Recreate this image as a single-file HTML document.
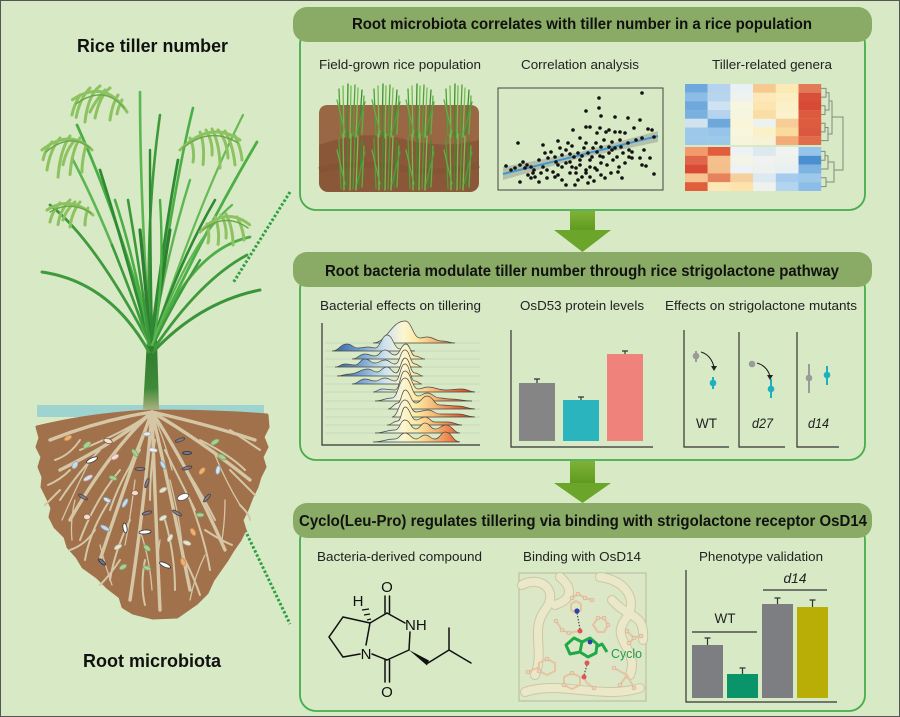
<!DOCTYPE html>
<html><head><meta charset="utf-8"><style>
html,body{margin:0;padding:0;background:#d8e9c5;}
svg{display:block;font-family:"Liberation Sans",Arial,sans-serif;}
</style></head><body>
<svg width="900" height="717" viewBox="0 0 900 717" xmlns="http://www.w3.org/2000/svg">
<defs>
<linearGradient id="ridge" gradientUnits="userSpaceOnUse" x1="330" y1="0" x2="476" y2="0">
<stop offset="0" stop-color="#2c5c9c"/><stop offset="0.2" stop-color="#6f9fd0"/><stop offset="0.38" stop-color="#cfe2ef"/><stop offset="0.5" stop-color="#fbf6d2"/><stop offset="0.6" stop-color="#fce7a0"/><stop offset="0.72" stop-color="#f5b575"/><stop offset="0.86" stop-color="#e56e3e"/><stop offset="1" stop-color="#c8391f"/>
</linearGradient>
<linearGradient id="arrowg" x1="0" y1="0" x2="0" y2="1"><stop offset="0" stop-color="#7fb236"/><stop offset="1" stop-color="#5d9a1f"/></linearGradient>
<linearGradient id="stemg" x1="0" y1="0" x2="0" y2="1"><stop offset="0" stop-color="#2d7a2f"/><stop offset="0.7" stop-color="#3f8a38"/><stop offset="1" stop-color="#a6b07a"/></linearGradient>
<g id="clump">
<g stroke-width="1.3" fill="none" stroke-linecap="round">
<path d="M-10 136 L-12 89" stroke="#4f9f3a"/><path d="M-7 137 L-8 86" stroke="#6dbf4b"/><path d="M-4 136 L-3 84" stroke="#3e8c31"/><path d="M-1 138 L0 86" stroke="#6cbf4a"/><path d="M2 136 L4 85" stroke="#4fa03a"/><path d="M5 137 L7 88" stroke="#72c250"/><path d="M8 135 L11 90" stroke="#3e8c31"/><path d="M11 134 L13 96" stroke="#5eb045"/><path d="M-6 132 L-14 100" stroke="#5eb045"/><path d="M6 132 L14 102" stroke="#4fa03a"/>
<path d="M-10 189 L-12 138" stroke="#4f9f3a"/><path d="M-7 190 L-8 134" stroke="#6dbf4b"/><path d="M-4 189 L-3 132" stroke="#3e8c31"/><path d="M-1 190 L0 134" stroke="#6cbf4a"/><path d="M2 189 L4 133" stroke="#4fa03a"/><path d="M5 190 L7 136" stroke="#72c250"/><path d="M8 188 L11 140" stroke="#3e8c31"/><path d="M11 187 L13 146" stroke="#5eb045"/><path d="M-6 184 L-14 150" stroke="#5eb045"/><path d="M6 184 L14 152" stroke="#4fa03a"/>
</g></g>
</defs>

<rect x="0" y="0" width="900" height="717" fill="#d8e9c5"/>
<rect x="0.5" y="0.5" width="899" height="716" fill="none" stroke="#555" stroke-width="1"/>

<!-- LEFT TITLES -->
<text x="77" y="52" font-size="18" font-weight="bold" fill="#111" textLength="151" lengthAdjust="spacingAndGlyphs">Rice tiller number</text>
<text x="83" y="667" font-size="18" font-weight="bold" fill="#111" textLength="138" lengthAdjust="spacingAndGlyphs">Root microbiota</text>

<!-- dotted lines -->
<path d="M290 192 L233 283" stroke="#2ea043" stroke-width="3" stroke-dasharray="2.5 2" fill="none"/>
<path d="M245 530 L290 624" stroke="#2ea043" stroke-width="3" stroke-dasharray="2.5 2" fill="none"/>

<!-- water -->
<rect x="37" y="405" width="227" height="12" fill="#9ed4d0"/>
<!-- soil -->
<path d="M37 427 Q90 414 150 411 Q220 411 267 415 L268 427 L263 437 L267 447 L262 457 L265 467 L260 477 L257 487 L252 497 L247 510 L242 520 L245 530 L240 540 L233 550 L227 560 L220 570 L213 580 L207 593 L197 603 L187 610 L177 617 L153 618 L133 613 L123 607 L120 597 L107 587 L97 577 L83 567 L77 557 L68 547 L65 537 L55 527 L50 517 L52 508 L47 497 L42 487 L43 477 L39 467 L42 457 L37 447 L40 438 Z" fill="#a0714a" stroke="#a0714a" stroke-width="3" stroke-linejoin="round"/>
<!-- roots -->
<g stroke="#d5c7a6" fill="none" stroke-linecap="round">
<g stroke-width="3.4">
<path d="M152 412 Q120 440 60 470"/><path d="M152 412 Q110 450 70 520"/><path d="M152 412 Q130 470 100 560"/><path d="M152 412 Q145 500 130 600"/><path d="M152 412 Q155 500 160 610"/><path d="M152 412 Q170 490 190 590"/><path d="M152 412 Q190 470 225 550"/><path d="M152 412 Q200 440 250 480"/><path d="M152 412 Q210 425 255 440"/><path d="M152 412 Q100 420 50 440"/>
</g>
<g stroke-width="2">
<path d="M152 412 Q130 430 80 450"/><path d="M100 450 Q80 470 60 500"/><path d="M120 470 Q95 500 80 540"/><path d="M180 460 Q200 490 215 520"/><path d="M200 440 Q230 455 245 470"/><path d="M130 520 Q115 550 110 580"/><path d="M165 520 Q175 555 175 590"/><path d="M110 500 Q90 530 85 560"/><path d="M190 500 Q205 540 210 570"/><path d="M140 450 Q120 480 110 510"/><path d="M165 450 Q180 480 195 510"/><path d="M80 440 Q70 455 55 460"/><path d="M230 430 Q245 440 260 450"/><path d="M70 470 Q60 480 48 485"/><path d="M230 470 Q245 485 255 495"/><path d="M95 530 Q85 545 70 550"/><path d="M205 530 Q220 540 232 545"/><path d="M145 560 Q140 585 145 605"/><path d="M120 560 Q110 575 100 585"/><path d="M185 560 Q195 580 200 595"/><path d="M155 440 Q150 470 150 500"/><path d="M60 490 Q50 500 45 505"/><path d="M240 505 Q250 515 250 520"/>
</g>
<g stroke-width="1.3">
<path d="M152 412 Q140 440 128 470"/><path d="M152 412 Q165 440 172 470"/><path d="M90 460 Q75 490 62 520"/><path d="M215 455 Q225 480 240 505"/><path d="M135 480 Q130 520 125 545"/><path d="M170 480 Q180 520 182 545"/><path d="M75 500 Q70 520 72 540"/><path d="M225 500 Q225 520 222 540"/><path d="M140 530 Q150 560 152 590"/><path d="M160 540 Q155 570 160 600"/><path d="M100 545 Q105 565 112 585"/><path d="M205 555 Q195 575 190 600"/>
</g></g>
<!-- bacteria -->
<g stroke-width="0.8">
<ellipse cx="68" cy="438" rx="4" ry="2.2" fill="#f0b070" stroke="#c98a50" transform="rotate(-30 68 438)"/>
<ellipse cx="87" cy="445" rx="4.5" ry="2.4" fill="#a9d195" stroke="#7aa868" transform="rotate(-40 87 445)"/>
<ellipse cx="108" cy="441" rx="4.5" ry="2.4" fill="#f6e1cc" stroke="#6a5a4a" transform="rotate(20 108 441)"/>
<ellipse cx="92" cy="460" rx="6" ry="2" fill="#fff" stroke="#333" transform="rotate(-25 92 460)"/>
<ellipse cx="75" cy="465" rx="4" ry="2.4" fill="#c9dbe6" stroke="#9ab" transform="rotate(-60 75 465)"/>
<ellipse cx="115" cy="457" rx="4" ry="2.2" fill="#f3dfca" stroke="#c9a" transform="rotate(-30 115 457)"/>
<ellipse cx="135" cy="453" rx="4.5" ry="2" fill="#a9d195" stroke="#7aa868" transform="rotate(50 135 453)"/>
<ellipse cx="147" cy="434" rx="4" ry="2" fill="#e8ecd8" stroke="#aab" />
<ellipse cx="153" cy="450" rx="4.5" ry="2" fill="#eef0e8" stroke="#aab" transform="rotate(10 153 450)"/>
<ellipse cx="180" cy="440" rx="5" ry="1.5" fill="#8a7a8a" stroke="#444" transform="rotate(-20 180 440)"/>
<ellipse cx="187" cy="453" rx="4.5" ry="1.5" fill="#6a7a9a" stroke="#333"/>
<ellipse cx="215" cy="442" rx="4.5" ry="2.2" fill="#a9d195" stroke="#7aa868" transform="rotate(-30 215 442)"/>
<ellipse cx="222" cy="457" rx="4.5" ry="2.2" fill="#a9d195" stroke="#7aa868" transform="rotate(30 222 457)"/>
<ellipse cx="202" cy="471" rx="4" ry="2.2" fill="#f0b070" stroke="#c98a50" transform="rotate(-50 202 471)"/>
<ellipse cx="218" cy="470" rx="4.5" ry="2.2" fill="#d4e6f2" stroke="#89a" transform="rotate(-80 218 470)"/>
<ellipse cx="187" cy="468" rx="5" ry="1.5" fill="#8a7a8a" stroke="#444" transform="rotate(-15 187 468)"/>
<ellipse cx="140" cy="469" rx="5" ry="1.5" fill="#8a7a8a" stroke="#444"/>
<ellipse cx="163" cy="465" rx="4.5" ry="2" fill="#c6dceb" stroke="#89a" transform="rotate(60 163 465)"/>
<ellipse cx="88" cy="478" rx="5" ry="2" fill="#dde3e6" stroke="#aab" transform="rotate(-30 88 478)"/>
<ellipse cx="113" cy="478" rx="4" ry="2" fill="#a9d195" stroke="#7aa868" transform="rotate(20 113 478)"/>
<ellipse cx="147" cy="483" rx="5" ry="1.5" fill="#8a7a8a" stroke="#444" transform="rotate(-70 147 483)"/>
<ellipse cx="135" cy="493" rx="3.5" ry="2.6" fill="#f6dcc4" stroke="#8a6a5a"/>
<ellipse cx="163" cy="490" rx="4" ry="2" fill="#e9e6cf" stroke="#bba" transform="rotate(-30 163 490)"/>
<ellipse cx="183" cy="497" rx="6" ry="3" fill="#fff" stroke="#555" transform="rotate(-20 183 497)"/>
<ellipse cx="207" cy="498" rx="5" ry="1.5" fill="#8a7a8a" stroke="#444" transform="rotate(-50 207 498)"/>
<ellipse cx="83" cy="497" rx="5" ry="1.5" fill="#8a7a8a" stroke="#444" transform="rotate(30 83 497)"/>
<ellipse cx="107" cy="500" rx="4" ry="2" fill="#d4e6f2" stroke="#89a" transform="rotate(30 107 500)"/>
<ellipse cx="125" cy="503" rx="5" ry="2" fill="#c6dceb" stroke="#89a" transform="rotate(-60 125 503)"/>
<ellipse cx="147" cy="513" rx="5" ry="1.5" fill="#8a7a8a" stroke="#444" transform="rotate(-15 147 513)"/>
<ellipse cx="177" cy="513" rx="5" ry="1.5" fill="#8a7a8a" stroke="#444" transform="rotate(30 177 513)"/>
<ellipse cx="163" cy="518" rx="4" ry="2" fill="#e9e6cf" stroke="#bba" transform="rotate(-30 163 518)"/>
<ellipse cx="200" cy="515" rx="4" ry="2" fill="#a9d195" stroke="#7aa868"/>
<ellipse cx="87" cy="517" rx="3.5" ry="2.8" fill="#f6dcc4" stroke="#8a6a5a"/>
<ellipse cx="105" cy="528" rx="5" ry="2" fill="#c6dceb" stroke="#89a" transform="rotate(30 105 528)"/>
<ellipse cx="125" cy="528" rx="5" ry="2" fill="#fff" stroke="#333" transform="rotate(80 125 528)"/>
<ellipse cx="145" cy="532" rx="6" ry="2" fill="#fff" stroke="#333" transform="rotate(-5 145 532)"/>
<ellipse cx="170" cy="538" rx="4" ry="2" fill="#e9e6cf" stroke="#bba" transform="rotate(-60 170 538)"/>
<ellipse cx="193" cy="532" rx="4" ry="2.2" fill="#f0b070" stroke="#c98a50" transform="rotate(60 193 532)"/>
<ellipse cx="118" cy="547" rx="4" ry="2" fill="#e9e6cf" stroke="#bba" transform="rotate(-30 118 547)"/>
<ellipse cx="147" cy="548" rx="4" ry="2.2" fill="#a9d195" stroke="#7aa868" transform="rotate(40 147 548)"/>
<ellipse cx="187" cy="543" rx="4" ry="2" fill="#e9e6cf" stroke="#bba" transform="rotate(20 187 543)"/>
<ellipse cx="102" cy="562" rx="4.5" ry="1.5" fill="#6a7a9a" stroke="#333" transform="rotate(40 102 562)"/>
<ellipse cx="123" cy="567" rx="4" ry="2.2" fill="#a9d195" stroke="#7aa868" transform="rotate(-30 123 567)"/>
<ellipse cx="147" cy="568" rx="4" ry="2" fill="#a9d195" stroke="#7aa868" transform="rotate(20 147 568)"/>
<ellipse cx="165" cy="565" rx="6" ry="2" fill="#fff" stroke="#333" transform="rotate(25 165 565)"/>
<ellipse cx="183" cy="562" rx="4" ry="2.2" fill="#f0b070" stroke="#c98a50" transform="rotate(70 183 562)"/>
</g>

<!-- plant stem -->
<path d="M143 409 L159 409 L157 340 L147 340 Z" fill="url(#stemg)"/>
<!-- leaves -->
<g fill="none" stroke-linecap="round">
<path d="M149 352 Q110 282 42 272" stroke="#3f9a3c" stroke-width="3"/>
<path d="M153 352 Q200 302 260 290" stroke="#3a9438" stroke-width="3"/>
<path d="M154 340 Q205 230 257 142" stroke="#4caf45" stroke-width="2.8"/>
<path d="M150 340 Q140 200 140 92" stroke="#5cb652" stroke-width="2.6"/>
<path d="M152 340 Q175 180 193 108" stroke="#4caf45" stroke-width="2.6"/>
<path d="M153 340 Q200 200 243 115" stroke="#66bb55" stroke-width="2.2"/>
<path d="M151 340 Q120 220 77 125" stroke="#4caf45" stroke-width="2.8"/>
<path d="M150 345 Q95 240 50 205" stroke="#3f9a3c" stroke-width="2.8"/>
<path d="M149 345 Q110 230 72 158" stroke="#5cb652" stroke-width="2.6"/>
<path d="M153 345 Q190 250 250 237" stroke="#4caf45" stroke-width="2.8"/>
<path d="M153 350 Q200 280 247 255" stroke="#3f9a3c" stroke-width="2.8"/>
<path d="M150 340 Q145 220 160 115" stroke="#3f9a3c" stroke-width="2.6"/>
<path d="M151 340 Q165 230 178 160" stroke="#2f8a34" stroke-width="2.8"/>
<path d="M150 345 Q125 250 100 170" stroke="#2f8a34" stroke-width="2.8"/>
<path d="M152 343 Q180 260 215 200" stroke="#2f8a34" stroke-width="2.6"/>
<path d="M150 345 Q135 260 115 200" stroke="#4caf45" stroke-width="2.6"/>
<path d="M152 345 Q165 260 190 180" stroke="#5cb652" stroke-width="2.4"/>
<path d="M151 350 Q145 280 140 230" stroke="#2f7f32" stroke-width="3.2"/>
<path d="M152 350 Q160 290 170 230" stroke="#2f7f32" stroke-width="3.2"/>
<path d="M150 345 Q140 270 128 200" stroke="#3a9a3a" stroke-width="2.6"/>
<path d="M153 345 Q165 280 160 200" stroke="#4caf45" stroke-width="2.4"/>
<path d="M150 345 Q130 290 112 245" stroke="#3f9a3c" stroke-width="2.4"/>
<path d="M153 345 Q175 300 200 260" stroke="#3f9a3c" stroke-width="2.4"/>
<path d="M152 340 Q150 250 150 150" stroke="#2f8a34" stroke-width="2.4"/>
<path d="M152 345 Q190 240 232 205" stroke="#5cb652" stroke-width="2.2"/>
</g>
<!-- panicles -->
<g fill="none" stroke-linecap="round">
<g stroke="#8cc260" stroke-width="3" stroke-dasharray="1.8 0.8">
<path d="M127 112 Q105 78 72 100"/><path d="M110 88 Q100 95 95 118"/><path d="M100 86 Q88 95 85 122"/><path d="M90 88 Q80 98 76 118"/><path d="M118 95 Q112 105 110 120"/><path d="M80 95 Q74 105 72 115"/><path d="M105 90 Q96 100 90 112"/><path d="M122 100 Q118 108 117 114"/>
<path d="M92 150 Q70 128 42 150"/><path d="M80 138 Q72 150 70 175"/><path d="M70 136 Q60 150 58 178"/><path d="M60 138 Q50 150 47 170"/><path d="M86 145 Q82 160 82 172"/><path d="M75 140 Q66 150 63 165"/><path d="M52 142 Q45 150 43 160"/>
<path d="M93 215 Q70 195 47 210"/><path d="M80 202 Q72 212 70 227"/><path d="M70 200 Q60 210 58 225"/><path d="M60 203 Q52 212 50 222"/><path d="M88 208 Q85 218 85 225"/><path d="M75 202 Q66 210 63 220"/>
<path d="M180 150 Q210 120 240 140"/><path d="M200 132 Q205 145 203 165"/><path d="M212 129 Q220 145 220 168"/><path d="M225 131 Q233 145 235 165"/><path d="M190 138 Q195 150 193 162"/><path d="M235 136 Q241 148 242 160"/><path d="M206 130 Q213 142 212 155"/><path d="M218 130 Q227 140 228 158"/>
<path d="M200 232 Q225 205 250 225"/><path d="M215 217 Q220 230 218 245"/><path d="M226 214 Q233 228 233 245"/><path d="M237 217 Q243 228 244 240"/><path d="M207 224 Q210 235 208 243"/><path d="M221 215 Q227 225 226 238"/>
</g>
<g stroke="#6aa84a" stroke-width="1.5" stroke-dasharray="1.5 1">
<path d="M124 108 Q104 84 76 104"/><path d="M90 148 Q70 132 46 152"/><path d="M91 213 Q70 200 50 212"/><path d="M183 148 Q210 126 238 143"/><path d="M203 230 Q225 212 248 228"/>
</g>
</g>

<!-- ============ PANEL 1 ============ -->
<rect x="300" y="28" width="565" height="182" rx="16" fill="none" stroke="#45ad4a" stroke-width="1.8"/>
<rect x="293" y="7" width="579" height="35" rx="14" fill="#89ab65"/>
<text x="352" y="29" font-size="16" font-weight="bold" fill="#111" textLength="460" lengthAdjust="spacingAndGlyphs">Root microbiota correlates with tiller number in a rice population</text>
<g font-size="13" fill="#222">
<text x="319" y="69" textLength="162" lengthAdjust="spacingAndGlyphs">Field-grown rice population</text>
<text x="521" y="69" textLength="118" lengthAdjust="spacingAndGlyphs">Correlation analysis</text>
<text x="712" y="69" textLength="120" lengthAdjust="spacingAndGlyphs">Tiller-related genera</text>
</g>
<!-- field -->
<rect x="319" y="105" width="160" height="87" rx="9" fill="#8a5838"/>
<path d="M319 114 Q319 105 328 105 L470 105 Q479 105 479 114 L479 140 Q440 150 400 138 Q360 130 319 145 Z" fill="#9a6744"/>
<path d="M319 170 Q360 160 400 168 Q440 176 479 165" stroke="#7d4f32" stroke-width="6" fill="none" opacity="0.5"/>
<use href="#clump" x="351" y="0"/>
<use href="#clump" x="386" y="0"/>
<use href="#clump" x="420" y="0"/>
<use href="#clump" x="458" y="0"/>
<!-- scatter -->
<rect x="498" y="88" width="165" height="102" fill="none" stroke="#444" stroke-width="1"/>
<polygon points="503,167 580,152 658,131 658,142 580,158 503,180" fill="#a6aea0" opacity="0.7"/>
<line x1="503" y1="174" x2="658" y2="136" stroke="#3e97d1" stroke-width="2"/>
<g fill="#111">
<circle cx="642" cy="93" r="1.8"/><circle cx="599" cy="98" r="1.8"/><circle cx="599" cy="108" r="1.8"/><circle cx="586" cy="111" r="1.8"/><circle cx="615" cy="117" r="1.8"/><circle cx="628" cy="118" r="1.8"/><circle cx="601" cy="116" r="1.8"/><circle cx="640" cy="120" r="1.8"/><circle cx="573" cy="130" r="1.8"/><circle cx="586" cy="127" r="1.8"/><circle cx="590" cy="127" r="1.8"/><circle cx="600" cy="128" r="1.8"/><circle cx="609" cy="130" r="1.8"/><circle cx="597" cy="133" r="1.8"/><circle cx="606" cy="132" r="1.8"/><circle cx="615" cy="132" r="1.8"/><circle cx="620" cy="132" r="1.8"/><circle cx="625" cy="133" r="1.8"/><circle cx="634" cy="128" r="1.8"/><circle cx="648" cy="129" r="1.8"/><circle cx="652" cy="130" r="1.8"/><circle cx="518" cy="143" r="1.8"/><circle cx="543" cy="145" r="1.8"/><circle cx="558" cy="141" r="1.8"/><circle cx="568" cy="143" r="1.8"/><circle cx="580" cy="138" r="1.8"/><circle cx="586" cy="143" r="1.8"/><circle cx="593" cy="148" r="1.8"/><circle cx="601" cy="147" r="1.8"/><circle cx="609" cy="147" r="1.8"/><circle cx="615" cy="148" r="1.8"/><circle cx="621" cy="147" r="1.8"/><circle cx="629" cy="150" r="1.8"/><circle cx="642" cy="138" r="1.8"/><circle cx="654" cy="137" r="1.8"/><circle cx="506" cy="166" r="1.8"/><circle cx="511" cy="170" r="1.8"/><circle cx="520" cy="165" r="1.8"/><circle cx="523" cy="162" r="1.8"/><circle cx="527" cy="165" r="1.8"/><circle cx="531" cy="167" r="1.8"/><circle cx="539" cy="160" r="1.8"/><circle cx="545" cy="153" r="1.8"/><circle cx="551" cy="152" r="1.8"/><circle cx="555" cy="157" r="1.8"/><circle cx="562" cy="155" r="1.8"/><circle cx="566" cy="150" r="1.8"/><circle cx="570" cy="154" r="1.8"/><circle cx="574" cy="157" r="1.8"/><circle cx="578" cy="153" r="1.8"/><circle cx="582" cy="156" r="1.8"/><circle cx="588" cy="153" r="1.8"/><circle cx="592" cy="157" r="1.8"/><circle cx="597" cy="152" r="1.8"/><circle cx="603" cy="157" r="1.8"/><circle cx="609" cy="153" r="1.8"/><circle cx="617" cy="157" r="1.8"/><circle cx="623" cy="153" r="1.8"/><circle cx="629" cy="157" r="1.8"/><circle cx="632" cy="152" r="1.8"/><circle cx="531" cy="178" r="1.8"/><circle cx="535" cy="177" r="1.8"/><circle cx="541" cy="173" r="1.8"/><circle cx="547" cy="170" r="1.8"/><circle cx="553" cy="172" r="1.8"/><circle cx="558" cy="165" r="1.8"/><circle cx="562" cy="167" r="1.8"/><circle cx="566" cy="163" r="1.8"/><circle cx="572" cy="167" r="1.8"/><circle cx="576" cy="168" r="1.8"/><circle cx="580" cy="165" r="1.8"/><circle cx="586" cy="170" r="1.8"/><circle cx="590" cy="167" r="1.8"/><circle cx="595" cy="168" r="1.8"/><circle cx="601" cy="163" r="1.8"/><circle cx="607" cy="165" r="1.8"/><circle cx="613" cy="160" r="1.8"/><circle cx="619" cy="167" r="1.8"/><circle cx="625" cy="163" r="1.8"/><circle cx="642" cy="165" r="1.8"/><circle cx="646" cy="166" r="1.8"/><circle cx="520" cy="182" r="1.8"/><circle cx="566" cy="185" r="1.8"/><circle cx="578" cy="180" r="1.8"/><circle cx="588" cy="183" r="1.8"/><circle cx="590" cy="177" r="1.8"/><circle cx="601" cy="175" r="1.8"/><circle cx="611" cy="173" r="1.8"/><circle cx="558" cy="175" r="1.8"/><circle cx="562" cy="180" r="1.8"/><circle cx="576" cy="173" r="1.8"/><circle cx="582" cy="177" r="1.8"/><circle cx="547" cy="178" r="1.8"/><circle cx="539" cy="182" r="1.8"/><circle cx="654" cy="174" r="1.8"/><circle cx="632" cy="158" r="1.8"/><circle cx="570" cy="162" r="1.8"/><circle cx="543" cy="167" r="1.8"/><circle cx="525" cy="168" r="1.8"/><circle cx="533" cy="173" r="1.8"/><circle cx="555" cy="177" r="1.8"/><circle cx="570" cy="173" r="1.8"/><circle cx="586" cy="173" r="1.8"/><circle cx="597" cy="170" r="1.8"/><circle cx="548" cy="158" r="1.8"/><circle cx="560" cy="148" r="1.8"/><circle cx="572" cy="146" r="1.8"/><circle cx="584" cy="148" r="1.8"/><circle cx="596" cy="143" r="1.8"/><circle cx="604" cy="140" r="1.8"/><circle cx="612" cy="142" r="1.8"/><circle cx="620" cy="140" r="1.8"/><circle cx="628" cy="143" r="1.8"/><circle cx="636" cy="140" r="1.8"/><circle cx="644" cy="150" r="1.8"/><circle cx="650" cy="158" r="1.8"/><circle cx="580" cy="160" r="1.8"/><circle cx="590" cy="160" r="1.8"/><circle cx="600" cy="156" r="1.8"/><circle cx="612" cy="150" r="1.8"/><circle cx="556" cy="162" r="1.8"/><circle cx="534" cy="170" r="1.8"/><circle cx="528" cy="175" r="1.8"/><circle cx="515" cy="168" r="1.8"/><circle cx="575" cy="185" r="1.8"/><circle cx="594" cy="181" r="1.8"/><circle cx="605" cy="178" r="1.8"/><circle cx="618" cy="172" r="1.8"/><circle cx="622" cy="178" r="1.8"/><circle cx="640" cy="158" r="1.8"/>
</g>
<!-- heatmap -->
<g>
<rect x="685" y="84" width="22.7" height="8.8" fill="#6fa8dc"/><rect x="707.7" y="84" width="22.7" height="8.8" fill="#b5d3ef"/><rect x="730.4" y="84" width="22.7" height="8.8" fill="#eaf1f5"/><rect x="753.1" y="84" width="22.7" height="8.8" fill="#f5c98f"/><rect x="775.8" y="84" width="22.7" height="8.8" fill="#fce9b3"/><rect x="798.5" y="84" width="22.7" height="8.8" fill="#e37a57"/>
<rect x="685" y="92.7" width="22.7" height="8.8" fill="#8cbde9"/><rect x="707.7" y="92.7" width="22.7" height="8.8" fill="#b8d5ee"/><rect x="730.4" y="92.7" width="22.7" height="8.8" fill="#eef3f0"/><rect x="753.1" y="92.7" width="22.7" height="8.8" fill="#fde8b8"/><rect x="775.8" y="92.7" width="22.7" height="8.8" fill="#fbeec0"/><rect x="798.5" y="92.7" width="22.7" height="8.8" fill="#d9503a"/>
<rect x="685" y="101.4" width="22.7" height="8.8" fill="#6fa8dc"/><rect x="707.7" y="101.4" width="22.7" height="8.8" fill="#cfe2f1"/><rect x="730.4" y="101.4" width="22.7" height="8.8" fill="#f6f6e1"/><rect x="753.1" y="101.4" width="22.7" height="8.8" fill="#fde4b0"/><rect x="775.8" y="101.4" width="22.7" height="8.8" fill="#fbf1c8"/><rect x="798.5" y="101.4" width="22.7" height="8.8" fill="#d84a35"/>
<rect x="685" y="110.1" width="22.7" height="8.8" fill="#79b0e0"/><rect x="707.7" y="110.1" width="22.7" height="8.8" fill="#b3d3ef"/><rect x="730.4" y="110.1" width="22.7" height="8.8" fill="#f6f6e0"/><rect x="753.1" y="110.1" width="22.7" height="8.8" fill="#fbdca2"/><rect x="775.8" y="110.1" width="22.7" height="8.8" fill="#fbf1cb"/><rect x="798.5" y="110.1" width="22.7" height="8.8" fill="#dd5a3e"/>
<rect x="685" y="118.8" width="22.7" height="8.8" fill="#d2e3ef"/><rect x="707.7" y="118.8" width="22.7" height="8.8" fill="#6ea7da"/><rect x="730.4" y="118.8" width="22.7" height="8.8" fill="#f8f5d8"/><rect x="753.1" y="118.8" width="22.7" height="8.8" fill="#eef2ee"/><rect x="775.8" y="118.8" width="22.7" height="8.8" fill="#f6cd96"/><rect x="798.5" y="118.8" width="22.7" height="8.8" fill="#de5b3f"/>
<rect x="685" y="127.5" width="22.7" height="8.8" fill="#9cc8ea"/><rect x="707.7" y="127.5" width="22.7" height="8.8" fill="#96c4ea"/><rect x="730.4" y="127.5" width="22.7" height="8.8" fill="#f8f6dc"/><rect x="753.1" y="127.5" width="22.7" height="8.8" fill="#fbf1c6"/><rect x="775.8" y="127.5" width="22.7" height="8.8" fill="#f9dc9c"/><rect x="798.5" y="127.5" width="22.7" height="8.8" fill="#dc5740"/>
<rect x="685" y="136.2" width="22.7" height="8.8" fill="#9cc8ea"/><rect x="707.7" y="136.2" width="22.7" height="8.8" fill="#9cc8ea"/><rect x="730.4" y="136.2" width="22.7" height="8.8" fill="#f6f5dc"/><rect x="753.1" y="136.2" width="22.7" height="8.8" fill="#f5f2d6"/><rect x="775.8" y="136.2" width="22.7" height="8.8" fill="#f3ac78"/><rect x="798.5" y="136.2" width="22.7" height="8.8" fill="#e06c4a"/>
<rect x="685" y="147" width="22.7" height="8.9" fill="#f29a6c"/><rect x="707.7" y="147" width="22.7" height="8.9" fill="#e15d3c"/><rect x="730.4" y="147" width="22.7" height="8.9" fill="#eef2f4"/><rect x="753.1" y="147" width="22.7" height="8.9" fill="#dde9f1"/><rect x="775.8" y="147" width="22.7" height="8.9" fill="#f0f3ef"/><rect x="798.5" y="147" width="22.7" height="8.9" fill="#96c4ea"/>
<rect x="685" y="155.8" width="22.7" height="8.9" fill="#e06549"/><rect x="707.7" y="155.8" width="22.7" height="8.9" fill="#f6c08c"/><rect x="730.4" y="155.8" width="22.7" height="8.9" fill="#f3f3e6"/><rect x="753.1" y="155.8" width="22.7" height="8.9" fill="#eff2ee"/><rect x="775.8" y="155.8" width="22.7" height="8.9" fill="#eef2ee"/><rect x="798.5" y="155.8" width="22.7" height="8.9" fill="#4a8fd0"/>
<rect x="685" y="164.6" width="22.7" height="8.9" fill="#d84a35"/><rect x="707.7" y="164.6" width="22.7" height="8.9" fill="#f5bf8b"/><rect x="730.4" y="164.6" width="22.7" height="8.9" fill="#eef2f4"/><rect x="753.1" y="164.6" width="22.7" height="8.9" fill="#eef2ee"/><rect x="775.8" y="164.6" width="22.7" height="8.9" fill="#e9f0f4"/><rect x="798.5" y="164.6" width="22.7" height="8.9" fill="#7fb4e2"/>
<rect x="685" y="173.4" width="22.7" height="8.9" fill="#f6c48f"/><rect x="707.7" y="173.4" width="22.7" height="8.9" fill="#e7825e"/><rect x="730.4" y="173.4" width="22.7" height="8.9" fill="#f5cf9c"/><rect x="753.1" y="173.4" width="22.7" height="8.9" fill="#dde9f1"/><rect x="775.8" y="173.4" width="22.7" height="8.9" fill="#a5ccee"/><rect x="798.5" y="173.4" width="22.7" height="8.9" fill="#9cc8ea"/>
<rect x="685" y="182.2" width="22.7" height="8.8" fill="#e15d3c"/><rect x="707.7" y="182.2" width="22.7" height="8.8" fill="#fde8b5"/><rect x="730.4" y="182.2" width="22.7" height="8.8" fill="#fde3ab"/><rect x="753.1" y="182.2" width="22.7" height="8.8" fill="#eef1ee"/><rect x="775.8" y="182.2" width="22.7" height="8.8" fill="#b2d4ef"/><rect x="798.5" y="182.2" width="22.7" height="8.8" fill="#8cbde9"/>
</g>
<g fill="none" stroke="#7f8c7f" stroke-width="1">
<path d="M821 88.4 H826 V97.1 H821"/><path d="M821 105.8 H825 V114.5 H821"/><path d="M821 123.2 H825 V131.9 H821"/><path d="M826 92.7 H829 V110 H825"/><path d="M825 127.5 H828 V140.6 H821"/><path d="M829 101 H832 V134 H828"/><path d="M832 117 H843 V170 H834"/>
<path d="M821 151.4 H825 V160.2 H821"/><path d="M825 155.8 H828 V169 H821"/><path d="M821 177.8 H826 V186.6 H821"/><path d="M828 162 H834 V182 H826"/>
</g>

<!-- arrow 1 -->
<rect x="570" y="211" width="25" height="20" fill="url(#arrowg)"/>
<polygon points="554,230 611,230 582.5,252" fill="#6ba52a"/>

<!-- ============ PANEL 2 ============ -->
<rect x="300" y="273" width="565" height="187" rx="16" fill="none" stroke="#45ad4a" stroke-width="1.8"/>
<rect x="293" y="252" width="579" height="35" rx="14" fill="#89ab65"/>
<text x="325" y="276" font-size="16" font-weight="bold" fill="#111" textLength="514" lengthAdjust="spacingAndGlyphs">Root bacteria modulate tiller number through rice strigolactone pathway</text>
<g font-size="13" fill="#222">
<text x="320" y="310" textLength="161" lengthAdjust="spacingAndGlyphs">Bacterial effects on tillering</text>
<text x="520" y="310" textLength="124" lengthAdjust="spacingAndGlyphs">OsD53 protein levels</text>
<text x="665" y="310" textLength="192" lengthAdjust="spacingAndGlyphs">Effects on strigolactone mutants</text>
</g>
<!-- ridge plot -->
<g stroke="#c3cfbb" stroke-width="0.8">
<line x1="325" y1="343" x2="480" y2="343"/><line x1="325" y1="351" x2="480" y2="351"/><line x1="325" y1="359" x2="480" y2="359"/><line x1="325" y1="367" x2="480" y2="367"/><line x1="325" y1="376" x2="480" y2="376"/><line x1="325" y1="384" x2="480" y2="384"/><line x1="325" y1="392" x2="480" y2="392"/><line x1="325" y1="401" x2="480" y2="401"/><line x1="325" y1="409" x2="480" y2="409"/><line x1="325" y1="417" x2="480" y2="417"/><line x1="325" y1="425" x2="480" y2="425"/><line x1="325" y1="433" x2="480" y2="433"/>
</g>
<g fill="url(#ridge)" stroke="#4a4a42" stroke-width="0.7">
<path d="M373 343 C387 343 391 321 405 321 C412 321 413 338 420 338 C423 338 424 337 427 337 C434 337 435 341 442 341 C448 341 449 343 455 343 Z"/>
<path d="M332 351 C339 351 340 344 347 344 C352 344 353 348 358 348 C362 348 364 347 368 347 C371 347 372 348 375 348 C380 348 382 335 387 335 C393 335 394 349 400 349 C407 349 408 351 415 351 Z"/>
<path d="M352 359 C358 359 359 354 365 354 C370 354 370 356 375 356 C380 356 380 350 385 350 C390 350 390 355 395 355 C400 355 401 344 406 344 C410 344 411 356 415 356 C420 356 420 359 425 359 Z"/>
<path d="M335 367 C340 367 340 364 345 364 C350 364 350 365 355 365 C360 365 360 359 365 359 C370 359 370 363 375 363 C380 363 380 360 385 360 C390 360 390 364 395 364 C400 364 400 350 405 350 C410 350 410 364 415 364 C418 364 419 367 422 367 Z"/>
<path d="M337 376 C343 376 344 374 350 374 C358 374 360 369 368 369 C372 369 373 372 377 372 C381 372 382 367 387 367 C391 367 392 373 396 373 C400 373 401 358 405 358 C410 358 410 373 415 373 C419 373 419 376 423 376 Z"/>
<path d="M352 384 C358 384 359 379 365 379 C370 379 370 381 375 381 C380 381 380 378 385 378 C390 378 390 381 395 381 C400 381 400 364 405 364 C410 364 410 381 415 381 C418 381 419 384 422 384 Z"/>
<path d="M373 392 C377 392 378 389 382 389 C388 389 389 390 395 390 C400 390 400 371 405 371 C411 371 412 389 418 389 C423 389 423 387 428 387 C436 387 437 390 445 390 C453 390 454 389 462 389 C468 389 469 392 475 392 Z"/>
<path d="M375 401 C383 401 384 398 392 398 C398 398 399 378 405 378 C411 378 412 396 418 396 C422 396 423 393 427 393 C433 393 434 398 440 398 C445 398 445 399 450 399 C460 399 462 401 472 401 Z"/>
<path d="M388 409 C392 409 394 403 398 403 C401 403 402 390 405 390 C410 390 411 403 416 403 C421 403 422 396 427 396 C433 396 434 405 440 405 C448 405 450 406 458 406 C466 406 467 409 475 409 Z"/>
<path d="M392 417 C398 417 399 400 405 400 C410 400 411 412 416 412 C421 412 423 410 428 410 C433 410 435 414 440 414 C448 414 450 414 458 414 C466 414 467 417 475 417 Z"/>
<path d="M387 425 C392 425 393 421 398 421 C401 421 402 407 405 407 C410 407 411 420 416 420 C420 420 421 417 425 417 C430 417 430 422 435 422 C441 422 442 422 448 422 C454 422 456 425 462 425 Z"/>
<path d="M375 433 C384 433 386 430 395 430 C400 430 400 420 405 420 C410 420 411 429 416 429 C420 429 421 423 425 423 C430 423 430 429 435 429 C440 429 441 425 446 425 C452 425 454 433 460 433 Z"/>
<path d="M373 442 C383 442 385 439 395 439 C400 439 400 433 405 433 C410 433 411 439 416 439 C420 439 421 435 425 435 C430 435 430 439 435 439 C440 439 441 432 445 432 C452 432 453 442 460 442 Z"/>
</g>
<path d="M322 323 V445 H480" fill="none" stroke="#333" stroke-width="1.2"/>
<!-- OsD53 bars -->
<path d="M511 330 V447 H653" fill="none" stroke="#333" stroke-width="1.2"/>
<rect x="519" y="383" width="36" height="58" fill="#858585"/>
<rect x="563" y="400" width="36" height="41" fill="#2ab4be"/>
<rect x="607" y="354" width="36" height="87" fill="#ef837b"/>
<g stroke="#333" stroke-width="1.2">
<path d="M537 383 V379 M534 379 H540"/><path d="M581 400 V397 M578 397 H584"/><path d="M625 354 V351 M622 351 H628"/>
</g>
<!-- mutants -->
<g fill="none" stroke="#333" stroke-width="1.2">
<path d="M684 330 V447 H729"/><path d="M739 332 V447 H785"/><path d="M797 332 V447 H839"/>
</g>
<g stroke-width="2">
<line x1="696" y1="351" x2="696" y2="362" stroke="#9a9a9a"/><circle cx="696" cy="356" r="3.3" fill="#9a9a9a"/>
<line x1="713" y1="377" x2="713" y2="389" stroke="#1fb0bd"/><circle cx="713" cy="383" r="3.3" fill="#1fb0bd"/>
<circle cx="752" cy="364" r="3.3" fill="#9a9a9a"/>
<line x1="771" y1="379" x2="771" y2="398" stroke="#1fb0bd"/><circle cx="771" cy="389" r="3.3" fill="#1fb0bd"/>
<line x1="809" y1="364" x2="809" y2="393" stroke="#9a9a9a"/><circle cx="809" cy="378" r="3.3" fill="#9a9a9a"/>
<line x1="827" y1="366" x2="827" y2="385" stroke="#1fb0bd"/><circle cx="827" cy="375" r="3.3" fill="#1fb0bd"/>
</g>
<g fill="none" stroke="#222" stroke-width="1.1">
<path d="M701 352 Q711 355 714 367"/><path d="M757 363 Q767 366 770 376"/>
</g>
<polygon points="711,366 717,366 714,371" fill="#222"/>
<polygon points="767,375 773,375 770,380" fill="#222"/>
<g font-size="14" fill="#222">
<text x="696" y="428" textLength="21" lengthAdjust="spacingAndGlyphs">WT</text>
<text x="752" y="428" font-style="italic" textLength="21" lengthAdjust="spacingAndGlyphs">d27</text>
<text x="808" y="428" font-style="italic" textLength="21" lengthAdjust="spacingAndGlyphs">d14</text>
</g>

<!-- arrow 2 -->
<rect x="570" y="461" width="25" height="23" fill="url(#arrowg)"/>
<polygon points="554,483 611,483 582.5,503" fill="#6ba52a"/>

<!-- ============ PANEL 3 ============ -->
<rect x="300" y="524" width="565" height="187" rx="16" fill="none" stroke="#45ad4a" stroke-width="1.8"/>
<rect x="293" y="503" width="579" height="35" rx="14" fill="#89ab65"/>
<text x="299" y="526" font-size="16" font-weight="bold" fill="#111" textLength="568" lengthAdjust="spacingAndGlyphs">Cyclo(Leu-Pro) regulates tillering via binding with strigolactone receptor OsD14</text>
<g font-size="13" fill="#222">
<text x="317" y="561" textLength="165" lengthAdjust="spacingAndGlyphs">Bacteria-derived compound</text>
<text x="523" y="561" textLength="118" lengthAdjust="spacingAndGlyphs">Binding with OsD14</text>
<text x="699" y="561" textLength="124" lengthAdjust="spacingAndGlyphs">Phenotype validation</text>
</g>
<!-- chemical structure -->
<g stroke="#111" stroke-width="1.5" fill="none" stroke-linecap="round">
<path d="M370 623 L343 617 L329 637 L343 657 L360 654"/>
<path d="M370 623 L366 645"/>
<path d="M370 623 L387 613"/>
<path d="M385 613 V596 M389.5 613 V596"/>
<path d="M387 613 L405 623"/>
<path d="M410 632 L409 650"/>
<path d="M409 650 L387 660"/>
<path d="M387 660 L372 654"/>
<path d="M385 660 V682 M389.5 660 V682"/>
<path d="M428 663 L449 650 L471 663 M449 650 V628"/>
</g>
<polygon points="409,650 429,660.5 427,665.5" fill="#111"/>
<g stroke="#111" stroke-width="1.2">
<line x1="367" y1="620" x2="371" y2="619"/><line x1="364" y1="615" x2="370" y2="614"/><line x1="362" y1="610" x2="369" y2="609"/>
</g>
<g font-size="15" fill="#111">
<text x="387" y="592" text-anchor="middle">O</text>
<text x="358" y="606" text-anchor="middle">H</text>
<text x="405" y="630">NH</text>
<text x="366" y="659" text-anchor="middle">N</text>
<text x="387" y="697" text-anchor="middle">O</text>
</g>
<!-- binding image -->
<rect x="519" y="573" width="127" height="128" fill="#dbe7c6" stroke="#b3ba9a" stroke-width="1"/>
<g fill="none" stroke-linecap="round">
<g stroke="#cbc8a4" stroke-width="10">
<path d="M522 585 C540 575 560 590 545 610 C530 630 545 650 535 675"/>
<path d="M600 577 C625 580 640 600 625 620 C610 640 640 650 630 675"/>
<path d="M525 692 C560 680 600 700 640 688"/>
<path d="M560 577 C575 590 570 600 555 605"/>
<path d="M612 600 C630 620 645 612 643 640"/>
</g>
<g stroke="#ebe8ca" stroke-width="8">
<path d="M522 585 C540 575 560 590 545 610 C530 630 545 650 535 675"/>
<path d="M600 577 C625 580 640 600 625 620 C610 640 640 650 630 675"/>
<path d="M525 692 C560 680 600 700 640 688"/>
<path d="M560 577 C575 590 570 600 555 605"/>
<path d="M612 600 C630 620 645 612 643 640"/>
</g>
</g>
<g stroke="#e6c4a2" stroke-width="2" fill="none" stroke-linejoin="round">
<path d="M572 598 L578 594 L585 598 L592 600"/>
<path d="M576 601 L581 604 L581 610 L576 613 L571 610 L571 604 Z"/>
<path d="M556 621 L562 630 L569 633 L579 631"/>
<path d="M593 625 L598 618 L604 618 L608 625 L604 632 L598 632 Z"/>
<path d="M627 631 L634 638 L641 636 M634 638 L629 643"/>
<path d="M547 659 L555 663 L555 671 L547 675 L539 671 L539 663 Z M539 667 L528 672"/>
<path d="M572 673 L580 677 L580 685 L572 689 L564 685 L564 677 Z"/>
<path d="M584 678 L587 683 L594 688"/>
<path d="M614 668 L627 675 L620 685 M627 675 L634 688"/>
</g>
<g fill="#efd3b6" stroke="#c9a585" stroke-width="0.5">
<circle cx="572" cy="598" r="2"/><circle cx="578" cy="594" r="2"/><circle cx="585" cy="598" r="2"/><circle cx="592" cy="600" r="2"/><circle cx="556" cy="621" r="2"/><circle cx="562" cy="630" r="2"/><circle cx="569" cy="633" r="2"/><circle cx="598" cy="618" r="2"/><circle cx="604" cy="618" r="2"/><circle cx="608" cy="625" r="2"/><circle cx="627" cy="631" r="2"/><circle cx="634" cy="638" r="2"/><circle cx="641" cy="636" r="2"/><circle cx="629" cy="643" r="2"/><circle cx="528" cy="672" r="2"/><circle cx="547" cy="659" r="2"/><circle cx="539" cy="671" r="2"/><circle cx="572" cy="673" r="2"/><circle cx="564" cy="685" r="2"/><circle cx="594" cy="688" r="2"/><circle cx="614" cy="668" r="2"/><circle cx="620" cy="685" r="2"/><circle cx="634" cy="688" r="2"/>
</g>
<g stroke="#333" stroke-width="1" stroke-dasharray="1.5 1.5">
<line x1="577" y1="613" x2="580" y2="629"/><line x1="587" y1="665" x2="584" y2="675"/>
</g>
<g stroke="#1faa45" stroke-width="3" fill="none" stroke-linejoin="round">
<path d="M574 638 L582 642 L580 652 L570 654 L566 645 Z"/>
<path d="M582 642 L590 638 L597 644 L596 653 L588 657 L580 652"/>
<path d="M596 647 L602 644 L607 652"/>
</g>
<circle cx="577" cy="611" r="2.6" fill="#2a3fb0"/>
<circle cx="580" cy="631" r="2.5" fill="#e05555"/>
<circle cx="590" cy="642" r="2.4" fill="#2a3fb0"/>
<circle cx="587" cy="663" r="2.5" fill="#e05555"/>
<circle cx="584" cy="677" r="2.5" fill="#e05555"/>
<text x="611" y="658" font-size="13" fill="#1f9e48" textLength="31" lengthAdjust="spacingAndGlyphs">Cyclo</text>
<!-- phenotype chart -->
<path d="M686 570 V702 H837" fill="none" stroke="#333" stroke-width="1.2"/>
<rect x="692" y="645" width="31" height="53" fill="#7c7e81"/>
<rect x="727" y="674" width="31" height="24" fill="#0a9469"/>
<rect x="762" y="604" width="31" height="94" fill="#7c7e81"/>
<rect x="797" y="607" width="31" height="91" fill="#b9ae06"/>
<g stroke="#333" stroke-width="1.2">
<path d="M707.5 645 V638 M704.5 638 H710.5"/><path d="M742.5 674 V668 M739.5 668 H745.5"/><path d="M777.5 604 V598 M774.5 598 H780.5"/><path d="M812.5 607 V600 M809.5 600 H815.5"/>
<line x1="692" y1="632" x2="757" y2="632"/><line x1="763" y1="590" x2="827" y2="590"/>
</g>
<text x="714.5" y="623" font-size="14" fill="#222" textLength="21" lengthAdjust="spacingAndGlyphs">WT</text>
<text x="783.5" y="583" font-size="14" font-style="italic" fill="#222" textLength="23" lengthAdjust="spacingAndGlyphs">d14</text>
</svg>
</body></html>
